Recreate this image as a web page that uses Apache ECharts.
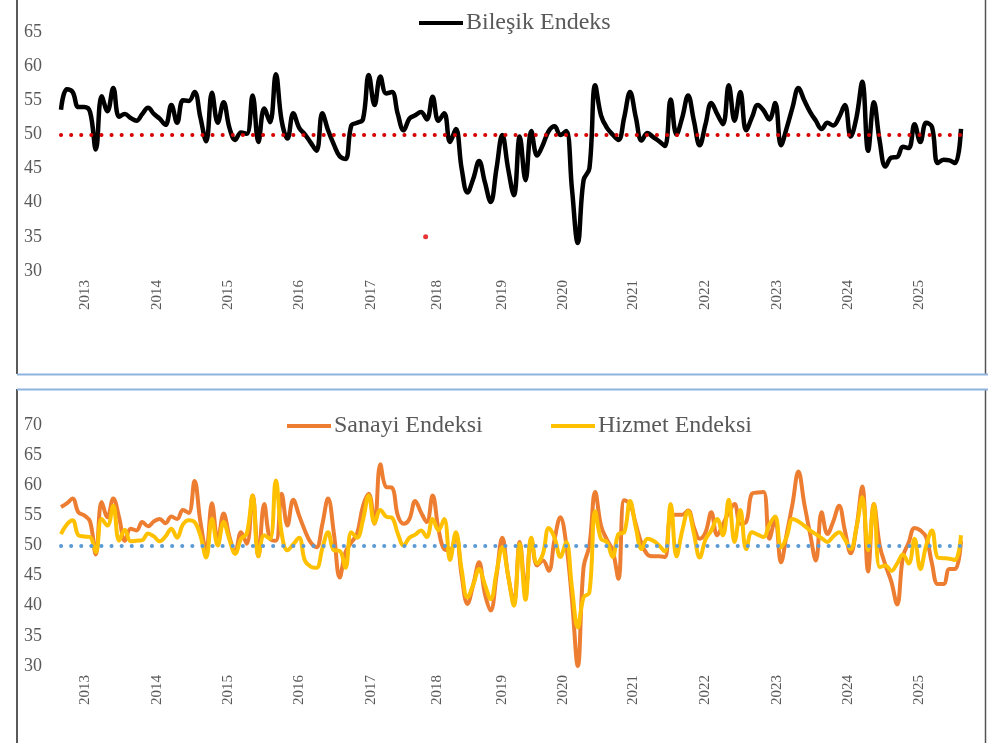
<!DOCTYPE html>
<html>
<head>
<meta charset="utf-8">
<script src="https://cdn.jsdelivr.net/npm/echarts@6/dist/echarts.min.js"></script>
<style>
  html, body { margin: 0; padding: 0; background: #fff; }
  #chart { width: 988px; height: 743px; }
</style>
</head>
<body>
<div id="chart"></div>
<script>
// monthly readings, index 0 = first month shown
var bilesik = [
  53.6, 56.6, 56.2, 54.0, 54.0, 53.3, 47.8, 55.6, 53.4, 56.8,
  52.6, 53.0, 52.4, 52.0, 53.0, 53.9, 53.0, 52.3, 51.4, 54.3,
  51.7, 55.0, 54.9, 56.2, 52.5, 49.0, 56.1, 51.7, 54.7, 51.0,
  49.2, 50.3, 50.1, 55.7, 48.9, 53.8, 51.8, 58.8, 52.0, 49.4,
  53.1, 51.0, 50.0, 48.8, 47.6, 53.1, 50.6, 48.5, 46.8, 46.4,
  51.3, 51.7, 52.2, 58.7, 54.3, 58.5, 56.0, 56.2, 53.0, 50.6,
  52.3, 52.8, 53.3, 52.2, 55.5, 52.0, 53.1, 48.9, 50.8, 45.0,
  41.5, 43.5, 46.1, 43.0, 40.1, 45.0, 49.9, 45.0, 41.1, 49.7,
  43.3, 50.5, 46.9, 48.5, 50.5, 51.2, 49.9, 50.5, 42.0, 34.1,
  43.3, 45.0, 57.2, 52.8, 51.0, 50.0, 49.2, 52.5, 56.2, 52.5,
  49.1, 50.2, 49.6, 49.0, 48.3, 55.1, 50.0, 52.5, 55.7, 52.0,
  48.4, 51.5, 54.6, 53.0, 51.5, 57.2, 52.0, 56.2, 50.6, 52.5,
  54.3, 53.5, 52.2, 54.6, 48.4, 51.0, 54.0, 56.8, 55.0, 53.3,
  52.0, 50.8, 51.7, 51.3, 52.5, 54.3, 49.7, 52.5, 57.7, 47.6,
  54.7, 49.0, 45.3, 46.6, 46.7, 48.2, 48.0, 51.5, 48.9, 51.7,
  51.1, 45.8, 46.3, 46.2, 45.8, 50.8
];

var sanayi = [
  56.4, 57.0, 57.8, 55.5, 55.0, 54.0, 48.5, 57.2, 54.7, 57.8,
  54.7, 50.8, 52.8, 52.5, 53.9, 53.2, 54.0, 54.4, 53.7, 54.8,
  54.4, 55.9, 55.4, 60.7, 54.0, 49.2, 57.0, 50.8, 55.3, 51.5,
  48.9, 52.2, 50.3, 58.3, 48.2, 56.9, 51.1, 50.8, 58.6, 53.3,
  57.6, 55.0, 52.5, 50.5, 49.7, 53.5, 57.8, 52.0, 44.7, 48.9,
  50.5, 52.0, 56.5, 58.6, 53.6, 63.5, 59.7, 59.6, 55.0, 53.6,
  54.4, 57.4, 55.5, 53.9, 58.3, 52.8, 49.4, 49.2, 51.7, 45.0,
  40.3, 43.5, 47.2, 42.0, 39.2, 45.0, 51.3, 45.0, 40.6, 50.6,
  42.5, 51.1, 46.7, 47.5, 45.8, 51.0, 54.7, 50.3, 41.0, 30.0,
  46.4, 50.0, 58.9, 53.3, 51.0, 49.2, 44.5, 57.5, 56.9, 53.5,
  50.3, 48.5, 48.2, 48.2, 48.1, 55.0, 55.1, 55.1, 55.8, 53.0,
  51.1, 52.2, 55.5, 51.7, 53.5, 55.5, 56.9, 53.6, 53.9, 58.6,
  58.8, 58.9, 51.1, 54.4, 47.2, 52.0, 57.0, 62.3, 57.0, 52.0,
  47.5, 55.5, 51.9, 54.0, 56.6, 52.5, 48.7, 53.0, 59.8, 45.7,
  56.9, 50.0, 46.7, 44.0, 40.2, 48.1, 50.5, 52.9, 52.5, 51.4,
  47.0, 43.6, 43.6, 46.1, 46.1, 50.8
];

var hizmet = [
  51.9, 53.5, 54.2, 51.7, 51.5, 51.4, 48.9, 54.4, 53.3, 56.6,
  50.8, 52.6, 50.7, 50.8, 50.9, 52.0, 51.5, 50.7, 51.5, 52.8,
  51.3, 53.5, 54.2, 53.9, 51.7, 48.0, 54.4, 50.0, 53.9, 51.0,
  48.6, 51.1, 52.0, 58.3, 48.2, 51.7, 51.1, 60.8, 52.0, 49.2,
  50.2, 51.3, 47.5, 46.5, 46.3, 49.5, 52.2, 49.2, 49.1, 46.3,
  52.2, 51.3, 54.2, 58.3, 53.7, 55.9, 54.8, 54.6, 52.0, 50.0,
  51.3, 51.8, 52.5, 51.4, 54.4, 52.5, 54.4, 47.6, 52.2, 46.0,
  41.4, 43.5, 46.1, 43.5, 41.1, 45.5, 49.7, 45.0, 40.0, 50.3,
  41.0, 51.3, 47.0, 48.6, 52.9, 51.3, 48.1, 50.6, 43.0, 36.4,
  41.4, 42.2, 55.7, 51.1, 50.6, 48.1, 51.9, 52.2, 57.4, 53.0,
  49.4, 51.1, 50.8, 50.0, 49.0, 56.9, 48.2, 52.5, 55.7, 52.0,
  48.0, 51.0, 52.5, 54.4, 51.7, 57.6, 50.6, 55.9, 49.4, 52.2,
  51.8, 51.4, 53.5, 54.8, 49.7, 51.5, 54.4, 54.0, 53.3, 52.5,
  51.9, 51.2, 50.6, 51.5, 52.2, 51.0, 49.4, 53.0, 58.0, 49.2,
  56.9, 46.4, 46.7, 45.8, 47.0, 48.5, 47.0, 51.1, 46.1, 50.0,
  52.5, 48.0, 47.9, 47.8, 47.6, 51.7
];

// year labels and where they sit on the month index
var yearLabels = ['2013', '2014', '2015', '2016', '2017', '2018', '2019',
                  '2020', '2021', '2022', '2023', '2024', '2025'];
var yearPos = [4.1, 16.6, 28.8, 41.0, 53.4, 64.8, 76.0, 86.4, 98.6, 110.9, 123.3, 135.5, 147.7];

var threshold = 50;
var strayDot = [62.8, 35];

function pairs (arr) {
  return arr.map(function (v, i) { return [i, v] })
}

function yearFormatter (val) {
  var best = 0
  for (var i = 1; i < yearPos.length; i++) {
    if (Math.abs(yearPos[i] - val) < Math.abs(yearPos[best] - val)) best = i
  }
  return yearLabels[best]
}

var serif = 'Liberation Serif'
var labelColor = '#595959'

function xAxisFor (gridIndex) {
  return {
    type: 'value',
    gridIndex: gridIndex,
    min: 0,
    max: bilesik.length - 1,
    axisLine: { show: false },
    axisTick: { show: false },
    splitLine: { show: false },
    axisLabel: {
      customValues: yearPos,
      formatter: yearFormatter,
      rotate: 90,
      margin: 9,
      fontFamily: serif,
      fontSize: 15,
      color: labelColor
    }
  }
}

function yAxisFor (gridIndex, max) {
  return {
    type: 'value',
    gridIndex: gridIndex,
    min: 30,
    max: max,
    interval: 5,
    axisLine: { show: false },
    axisTick: { show: false },
    splitLine: { show: false },
    axisLabel: {
      margin: 19,
      fontFamily: serif,
      fontSize: 18,
      color: labelColor
    }
  }
}

function dotted (color) {
  return {
    silent: true,
    symbol: 'none',
    label: { show: false },
    lineStyle: { color: color, width: 4, type: [0.1, 10], cap: 'round' },
    data: [{ yAxis: threshold }]
  }
}

function legendFor (name, left, top) {
  return {
    data: [name],
    left: left,
    top: top,
    icon: 'rect',
    itemWidth: 44,
    itemHeight: 4,
    textStyle: { fontFamily: serif, fontSize: 24, color: labelColor, padding: [0, 0, 0, -2] }
  }
}

var chart = echarts.init(document.getElementById('chart'))

var option = {
  backgroundColor: '#fff',
  animation: false,
  grid: [
    { left: 61, width: 900, top: 32, height: 239 },
    { left: 61, width: 900, top: 425, height: 241 }
  ],
  xAxis: [xAxisFor(0), xAxisFor(1)],
  yAxis: [yAxisFor(0, 65), yAxisFor(1, 70)],
  legend: [
    legendFor('Bileşik Endeks', 414, 6),
    legendFor('Sanayi Endeksi', 282, 409),
    legendFor('Hizmet Endeksi', 546, 409)
  ],
  graphic: [
    { type: 'line', shape: { x1: 17, y1: 0, x2: 17, y2: 374 }, style: { stroke: '#222', lineWidth: 1.5 } },
    { type: 'line', shape: { x1: 17, y1: 389, x2: 17, y2: 743 }, style: { stroke: '#222', lineWidth: 1.5 } },
    { type: 'line', shape: { x1: 985.5, y1: 0, x2: 985.5, y2: 374 }, style: { stroke: '#555', lineWidth: 1.5 } },
    { type: 'line', shape: { x1: 985.5, y1: 389, x2: 985.5, y2: 743 }, style: { stroke: '#555', lineWidth: 1.5 } },
    { type: 'line', shape: { x1: 17, y1: 374.5, x2: 988, y2: 374.5 }, style: { stroke: '#8fb4de', lineWidth: 2 } },
    { type: 'line', shape: { x1: 17, y1: 389.5, x2: 988, y2: 389.5 }, style: { stroke: '#8fb4de', lineWidth: 2 } }
  ],
  series: [
    {
      name: 'Bileşik Endeks',
      type: 'line',
      xAxisIndex: 0,
      yAxisIndex: 0,
      data: pairs(bilesik),
      smooth: 0.4,
      symbol: 'none',
      lineStyle: { color: '#000', width: 4.5 },
      itemStyle: { color: '#000' },
      markLine: dotted('#d60000'),
      z: 3
    },
    {
      name: 'stray',
      type: 'scatter',
      xAxisIndex: 0,
      yAxisIndex: 0,
      data: [strayDot],
      symbolSize: 5,
      itemStyle: { color: '#e00000' },
      silent: true
    },
    {
      name: 'Sanayi Endeksi',
      type: 'line',
      xAxisIndex: 1,
      yAxisIndex: 1,
      data: pairs(sanayi),
      smooth: 0.4,
      symbol: 'none',
      lineStyle: { color: '#ED7D31', width: 4 },
      itemStyle: { color: '#ED7D31' },
      markLine: dotted('#5B9BD5'),
      z: 2
    },
    {
      name: 'Hizmet Endeksi',
      type: 'line',
      xAxisIndex: 1,
      yAxisIndex: 1,
      data: pairs(hizmet),
      smooth: 0.4,
      symbol: 'none',
      lineStyle: { color: '#FFC000', width: 4 },
      itemStyle: { color: '#FFC000' },
      z: 3
    }
  ]
}

option && chart.setOption(option)
</script>
</body>
</html>
